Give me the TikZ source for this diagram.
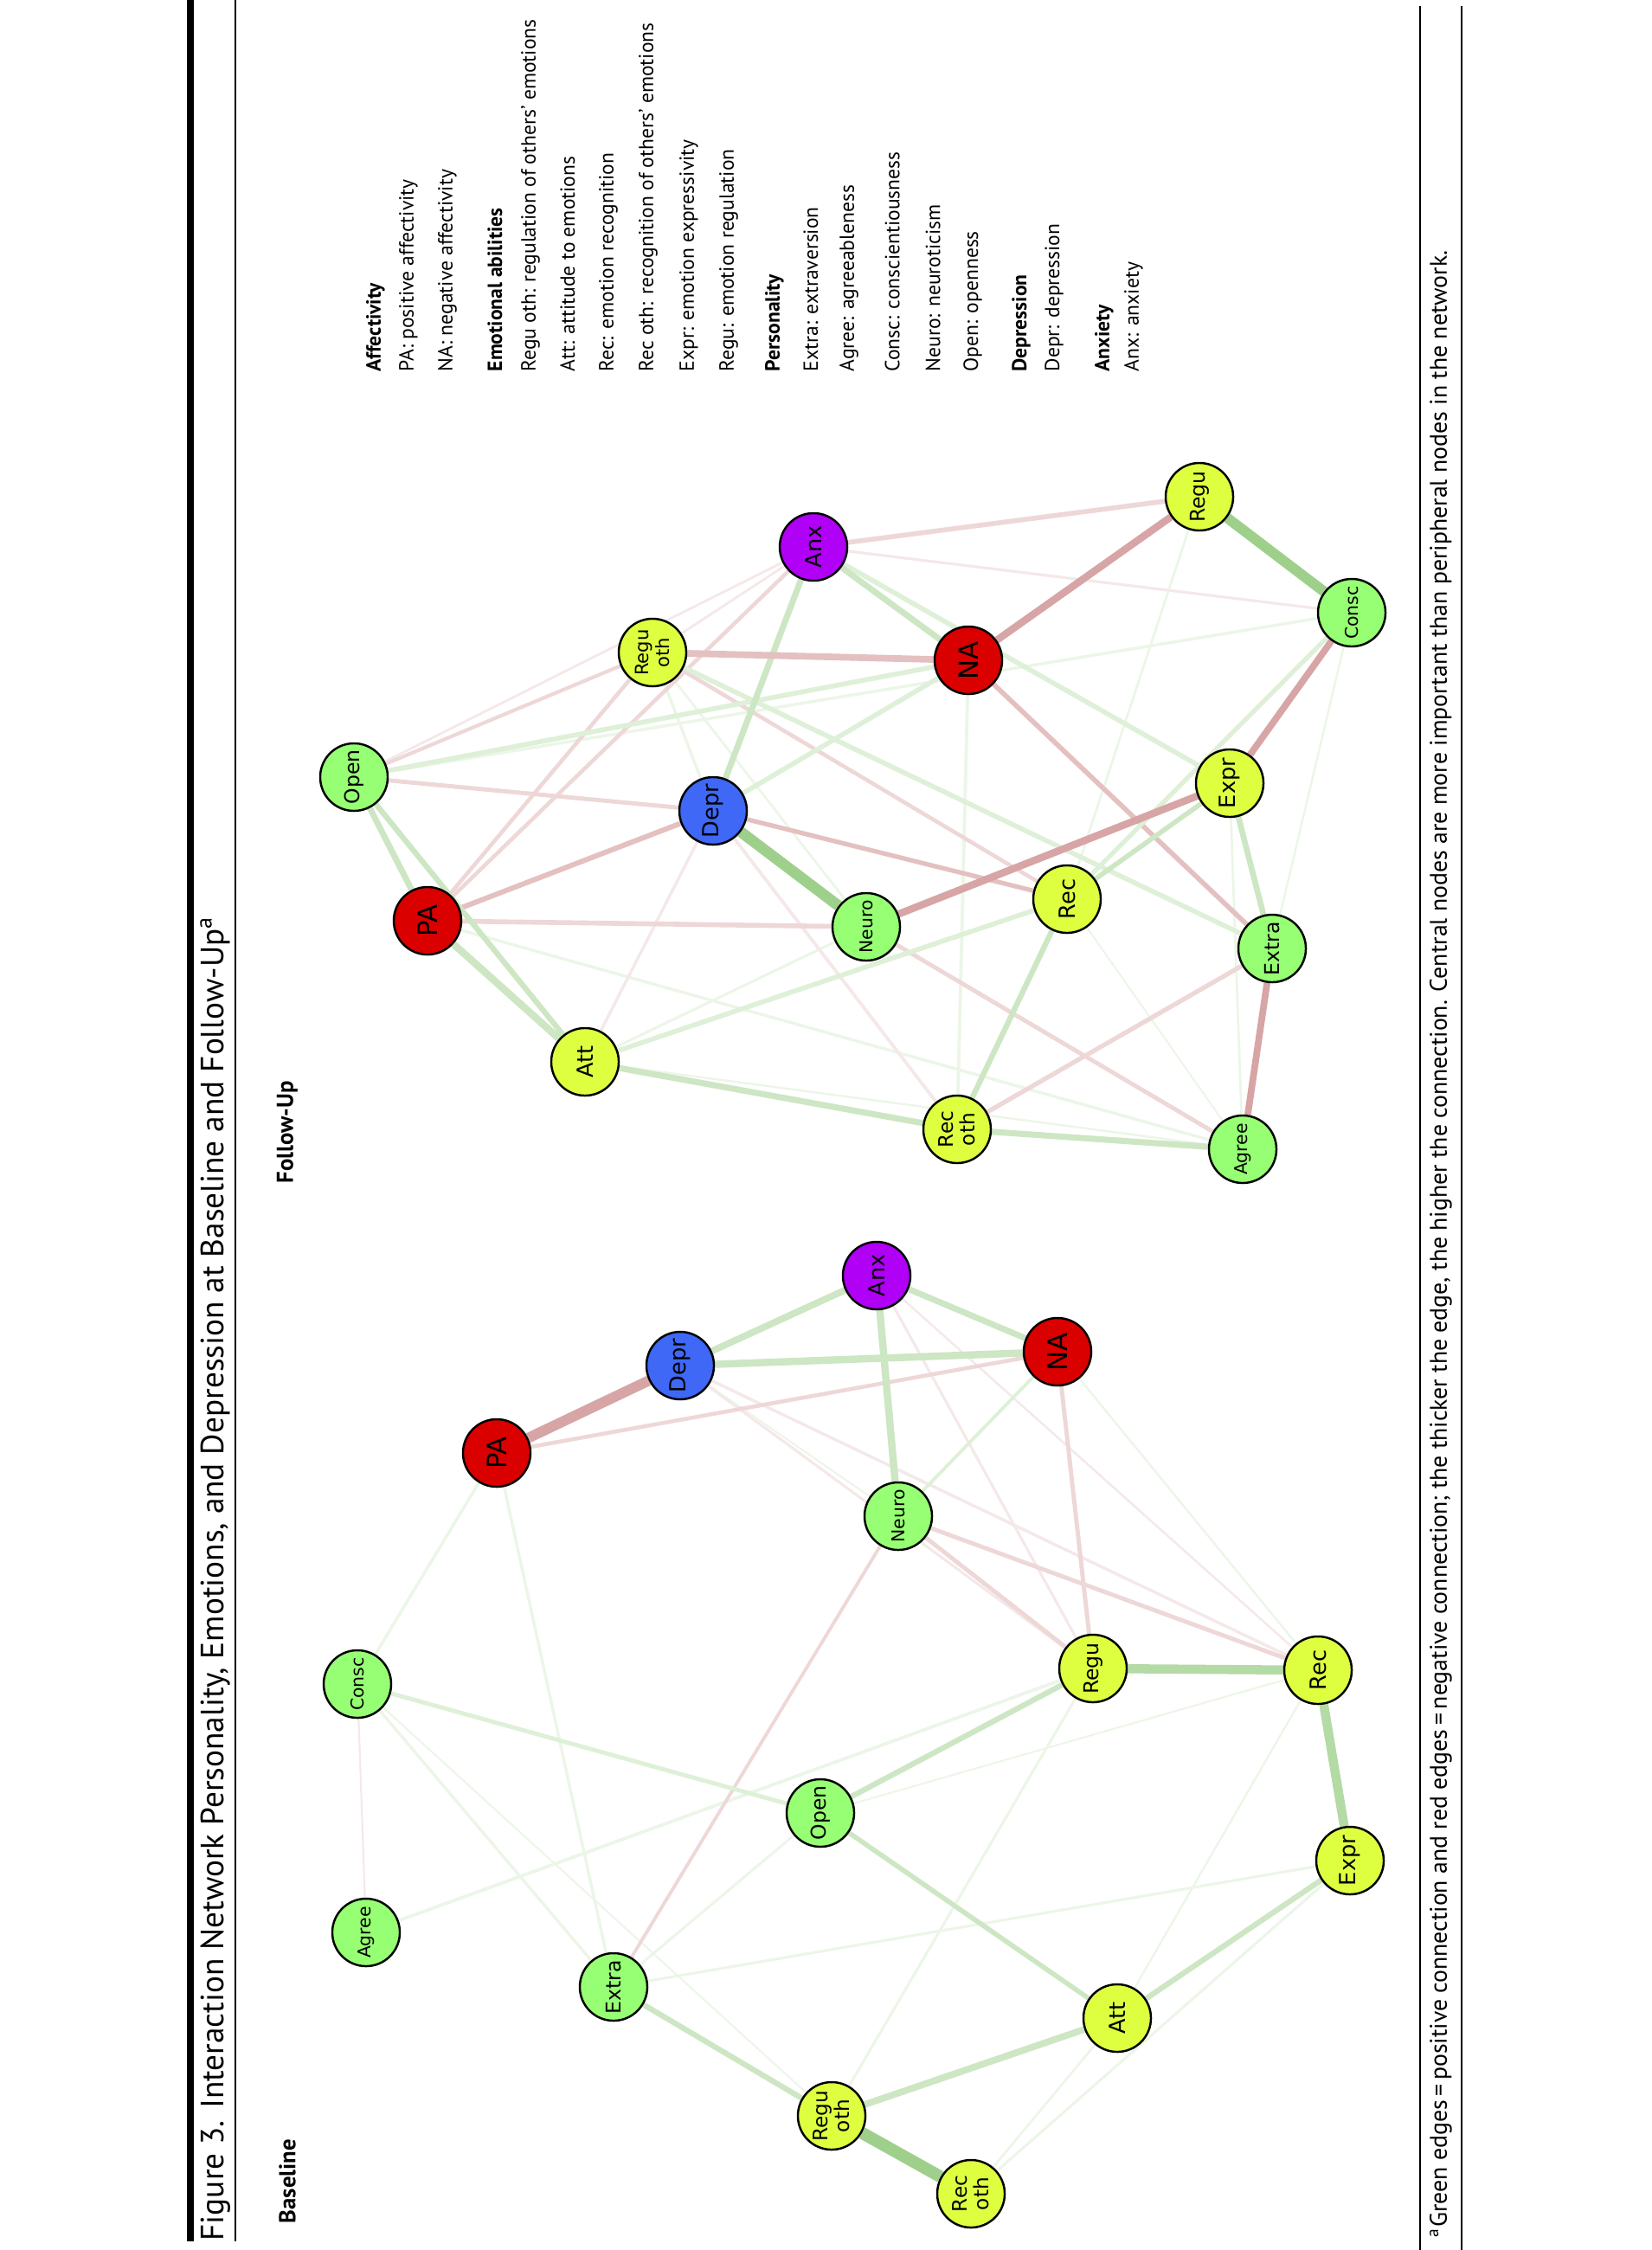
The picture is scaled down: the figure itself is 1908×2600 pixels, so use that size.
\documentclass[tikz,border=0pt]{standalone}
\usepackage{fontspec}
\setmainfont{PT Sans}
\newfontfamily\nodefont{DejaVu Sans}
\usetikzlibrary{backgrounds}
\definecolor{cRed}{RGB}{218,0,0}
\definecolor{cBlue}{RGB}{62,104,245}
\definecolor{cPurp}{RGB}{176,0,245}
\definecolor{cGreen}{RGB}{150,255,115}
\definecolor{cYell}{RGB}{222,255,64}
\definecolor{eG1}{RGB}{158,208,140}
\definecolor{eG2}{RGB}{180,218,165}
\definecolor{eG3}{RGB}{205,230,195}
\definecolor{eG4}{RGB}{222,240,215}
\definecolor{eG5}{RGB}{236,246,232}
\definecolor{eR1}{RGB}{215,165,165}
\definecolor{eR2}{RGB}{228,192,192}
\definecolor{eR3}{RGB}{238,215,215}
\definecolor{eR4}{RGB}{245,232,232}
\tikzset{
  nd/.style={circle, draw=black, line width=0.7pt, minimum size=0.78cm, inner sep=0pt,
    rotate=90, align=center, font=\nodefont\fontsize{7.3}{8}\selectfont},
  ndbig/.style={nd, font=\nodefont\fontsize{8.8}{10}\selectfont},
  ndmid/.style={nd, font=\nodefont\fontsize{6.7}{7.5}\selectfont},
  ndsmall/.style={nd, font=\nodefont\fontsize{5.8}{6.5}\selectfont},
  ndtwo/.style={nd, font=\nodefont\fontsize{6.6}{7.2}\selectfont},
  ndtwos/.style={nd, font=\nodefont\fontsize{6}{6.6}\selectfont},
  nred/.style={fill=cRed}, nblue/.style={fill=cBlue}, npurp/.style={fill=cPurp},
  ngreen/.style={fill=cGreen}, nyell/.style={fill=cYell},
  G1/.style={draw=eG1}, G2/.style={draw=eG2}, G3/.style={draw=eG3}, G4/.style={draw=eG4}, G5/.style={draw=eG5},
  R1/.style={draw=eR1}, R2/.style={draw=eR2}, R3/.style={draw=eR3}, R4/.style={draw=eR4},
  legtxt/.style={rotate=90, anchor=west, inner sep=0pt, font=\fontsize{6.7}{8}\selectfont},
  leghead/.style={legtxt, font=\bfseries\fontsize{6.7}{8}\selectfont}
}
\begin{document}
\begin{tikzpicture}[x=0.01cm,y=-0.01cm]
\path[use as bounding box] (0,0) rectangle (1908,2600);
% frame rules
\draw[line width=2pt] (220,0) -- (220,2590);
\draw[line width=0.45pt] (272,0) -- (272,2590);
\draw[line width=0.55pt] (1641,7) -- (1641,2600);
\draw[line width=0.55pt] (1689,7) -- (1689,2600);
% title and headings
\node[rotate=90, anchor=west, inner sep=0pt, font=\fontsize{10.6}{12}\selectfont] (title) at (249,2590)
  {Figure 3. Interaction Network Personality, Emotions, and Depression at Baseline and Follow-Up\textsuperscript{a}};
\node[rotate=90, anchor=west, inner sep=0pt, font=\bfseries\fontsize{7.6}{9}\selectfont] (hbase) at (332,2570) {Baseline};
\node[rotate=90, anchor=west, inner sep=0pt, font=\bfseries\fontsize{7.6}{9}\selectfont] (hfu) at (332,1368) {Follow-Up};
\node[rotate=90, anchor=west, inner sep=0pt, font=\fontsize{7.9}{9}\selectfont] (foot) at (1665,2586)
  {\textsuperscript{a}Green edges\,=\,positive connection and red edges\,=\,negative connection; the thicker the edge, the higher the connection. Central nodes are more important than peripheral nodes in the network.};
% legend
\node[leghead] (l1) at (434,430) {Affectivity};
\node[legtxt] (l2) at (472,430) {PA: positive affectivity};
\node[legtxt] (l3) at (517,430) {NA: negative affectivity};
\node[leghead] (l4) at (572,430) {Emotional abilities};
\node[legtxt] (l5) at (613,430) {Regu oth: regulation of others' emotions};
\node[legtxt] (l6) at (656,430) {Att: attitude to emotions};
\node[legtxt] (l7) at (703,430) {Rec: emotion recognition};
\node[legtxt] (l8) at (749,430) {Rec oth: recognition of others' emotions};
\node[legtxt] (l9) at (796,430) {Expr: emotion expressivity};
\node[legtxt] (l10) at (842,430) {Regu: emotion regulation};
\node[leghead] (l11) at (895,430) {Personality};
\node[legtxt] (l12) at (937,430) {Extra: extraversion};
\node[legtxt] (l13) at (981,430) {Agree: agreeableness};
\node[legtxt] (l14) at (1031,430) {Consc: conscientiousness};
\node[legtxt] (l15) at (1078,430) {Neuro: neuroticism};
\node[legtxt] (l16) at (1124,430) {Open: openness};
\node[leghead] (l17) at (1180,430) {Depression};
\node[legtxt] (l18) at (1218,430) {Depr: depression};
\node[leghead] (l19) at (1276,430) {Anxiety};
\node[legtxt] (l20) at (1310,430) {Anx: anxiety};

% ---------------- Baseline nodes
\node[ndbig,nred] (bPA) at (574,1679) {PA};
\node[nd,nblue] (bDepr) at (786,1578) {Depr};
\node[nd,npurp] (bAnx) at (1013,1474) {Anx};
\node[ndbig,nred] (bNA) at (1222,1562) {NA};
\node[ndsmall,ngreen] (bNeuro) at (1038,1752) {Neuro};
\node[ndsmall,ngreen] (bConsc) at (413,1946) {Consc};
\node[ndmid,nyell] (bRegu) at (1263,1928) {Regu};
\node[nd,nyell] (bRec) at (1523,1930) {Rec};
\node[ndmid,ngreen] (bOpen) at (948,2095) {Open};
\node[nd,nyell] (bExpr) at (1560,2150) {Expr};
\node[ndsmall,ngreen] (bAgree) at (423,2233) {Agree};
\node[ndmid,ngreen] (bExtra) at (709,2296) {Extra};
\node[nd,nyell] (bAtt) at (1291,2332) {Att};
\node[ndtwo,nyell] (bRegOth) at (961,2445) {Regu\\oth};
\node[ndtwo,nyell] (bRecOth) at (1122,2535) {Rec\\oth};

% ---------------- Follow-up nodes
\node[ndmid,ngreen] (fOpen) at (409,898) {Open};
\node[ndbig,nred] (fPA) at (494,1064) {PA};
\node[nd,nyell] (fAtt) at (676,1227) {Att};
\node[ndtwos,nyell] (fRegOth) at (754,754) {Regu\\oth};
\node[nd,nblue] (fDepr) at (824,937) {Depr};
\node[ndsmall,ngreen] (fNeuro) at (1001,1071) {Neuro};
\node[nd,npurp] (fAnx) at (940,632) {Anx};
\node[ndbig,nred] (fNA) at (1119,763) {NA};
\node[ndtwo,nyell] (fRecOth) at (1106,1305) {Rec\\oth};
\node[nd,nyell] (fRec) at (1233,1039) {Rec};
\node[nd,nyell] (fExpr) at (1421,905) {Expr};
\node[ndmid,ngreen] (fExtra) at (1470,1096) {Extra};
\node[ndsmall,ngreen] (fAgree) at (1436,1328) {Agree};
\node[ndmid,nyell] (fRegu) at (1386,574) {Regu};
\node[ndsmall,ngreen] (fConsc) at (1562,708) {Consc};

\begin{pgfonlayer}{background}
% ---- baseline edges (faint first)
\draw[G5,line width=0.6pt] (bOpen) -- (bRec);
\draw[G5,line width=0.6pt] (bDepr) -- (bNeuro);
\draw[R4,line width=0.6pt] (bConsc) -- (bAgree);
\draw[G5,line width=0.6pt] (bConsc) -- (bRegOth);
\draw[G5,line width=0.7pt] (bNA) -- (bRec);
\draw[R4,line width=0.7pt] (bAnx) -- (bRec);
\draw[G5,line width=0.7pt] (bAtt) -- (bRec);
\draw[G5,line width=0.8pt] (bAtt) -- (bRecOth);
\draw[R4,line width=0.9pt] (bDepr) -- (bRegu);
\draw[R4,line width=0.9pt] (bAnx) -- (bRegu);
\draw[G5,line width=0.9pt] (bExtra) -- (bOpen);
\draw[G5,line width=0.9pt] (bExtra) -- (bExpr);
\draw[G5,line width=0.9pt] (bRegOth) -- (bRegu);
\draw[G5,line width=0.9pt] (bExpr) -- (bRecOth);
\draw[G5,line width=1pt] (bPA) -- (bConsc);
\draw[G5,line width=1pt] (bPA) -- (bExtra);
\draw[G5,line width=1pt] (bConsc) -- (bExtra);
\draw[G5,line width=1.1pt] (bAgree) -- (bRegu);
\draw[R4,line width=1pt] (bDepr) -- (bRec);
\draw[G4,line width=1.1pt] (bNeuro) -- (bNA);
\draw[R3,line width=1.1pt] (bNeuro) -- (bExtra);
\draw[R3,line width=1.3pt] (bPA) -- (bNA);
\draw[R3,line width=1.4pt] (bNA) -- (bRegu);
\draw[R3,line width=1.4pt] (bNeuro) -- (bRegu);
\draw[R3,line width=1.4pt] (bNeuro) -- (bRec);
\draw[G4,line width=1.4pt] (bConsc) -- (bOpen);
\draw[G3,line width=1.6pt] (bOpen) -- (bAtt);
\draw[G3,line width=1.8pt] (bOpen) -- (bRegu);
\draw[G3,line width=1.8pt] (bExtra) -- (bRegOth);
\draw[G3,line width=1.8pt] (bAtt) -- (bExpr);
\draw[G3,line width=2.2pt] (bRegOth) -- (bAtt);
\draw[G3,line width=2pt] (bAnx) -- (bNA);
\draw[G3,line width=2.2pt] (bDepr) -- (bAnx);
\draw[G3,line width=2.4pt] (bDepr) -- (bNA);
\draw[G3,line width=2.4pt] (bAnx) -- (bNeuro);
\draw[G2,line width=3pt] (bRegu) -- (bRec);
\draw[G2,line width=3pt] (bRec) -- (bExpr);
\draw[G1,line width=4pt] (bRegOth) -- (bRecOth);
\draw[R1,line width=3.4pt] (bPA) -- (bDepr);

% ---- follow-up edges
\draw[G5,line width=0.6pt] (fRec) -- (fAgree);
\draw[G5,line width=0.7pt] (fAtt) -- (fAgree);
\draw[G5,line width=0.7pt] (fConsc) -- (fExtra);
\draw[G5,line width=0.8pt] (fRegu) -- (fRec);
\draw[G5,line width=0.8pt] (fExpr) -- (fAgree);
\draw[G5,line width=0.8pt] (fRegOth) -- (fNeuro);
\draw[R4,line width=0.8pt] (fOpen) -- (fAnx);
\draw[R4,line width=0.8pt] (fRegOth) -- (fAnx);
\draw[R4,line width=0.9pt] (fAnx) -- (fConsc);
\draw[G5,line width=0.9pt] (fAtt) -- (fNeuro);
\draw[G5,line width=1pt] (fOpen) -- (fConsc);
\draw[G5,line width=1pt] (fRegOth) -- (fDepr);
\draw[G5,line width=1pt] (fPA) -- (fAgree);
\draw[R4,line width=1pt] (fDepr) -- (fAtt);
\draw[R4,line width=1.1pt] (fDepr) -- (fRecOth);
\draw[G5,line width=1.1pt] (fNA) -- (fRecOth);
\draw[R3,line width=1.2pt] (fOpen) -- (fRegOth);
\draw[R3,line width=1.3pt] (fRegOth) -- (fPA);
\draw[R3,line width=1.3pt] (fAnx) -- (fPA);
\draw[R3,line width=1.3pt] (fRegOth) -- (fRec);
\draw[R3,line width=1.4pt] (fOpen) -- (fDepr);
\draw[R3,line width=1.4pt] (fNeuro) -- (fAgree);
\draw[R3,line width=1.5pt] (fRecOth) -- (fExtra);
\draw[R3,line width=1.6pt] (fPA) -- (fNeuro);
\draw[R3,line width=1.6pt] (fAnx) -- (fRegu);
\draw[R2,line width=1.5pt] (fDepr) -- (fRec);
\draw[R2,line width=1.6pt] (fNA) -- (fExtra);
\draw[R2,line width=1.7pt] (fDepr) -- (fPA);
\draw[G4,line width=1.5pt] (fConsc) -- (fRec);
\draw[G4,line width=1.6pt] (fOpen) -- (fNA);
\draw[G4,line width=1.6pt] (fRegOth) -- (fExtra);
\draw[G4,line width=1.6pt] (fAnx) -- (fExpr);
\draw[G4,line width=1.6pt] (fNA) -- (fDepr);
\draw[G4,line width=1.6pt] (fAtt) -- (fRec);
\draw[G3,line width=1.6pt] (fExpr) -- (fRec);
\draw[G3,line width=1.8pt] (fOpen) -- (fAtt);
\draw[G3,line width=1.8pt] (fRecOth) -- (fRec);
\draw[G3,line width=1.9pt] (fExpr) -- (fExtra);
\draw[G3,line width=2pt] (fOpen) -- (fPA);
\draw[G3,line width=2pt] (fAnx) -- (fDepr);
\draw[G3,line width=2pt] (fAnx) -- (fNA);
\draw[G3,line width=2pt] (fAtt) -- (fRecOth);
\draw[G3,line width=2pt] (fRecOth) -- (fAgree);
\draw[G3,line width=2.4pt] (fPA) -- (fAtt);
\draw[R2,line width=2.2pt] (fRegOth) -- (fNA);
\draw[R1,line width=2.2pt] (fConsc) -- (fExpr);
\draw[R1,line width=2.2pt] (fExtra) -- (fAgree);
\draw[R1,line width=2.4pt] (fNA) -- (fRegu);
\draw[R1,line width=2.4pt] (fExpr) -- (fNeuro);
\draw[G1,line width=3.4pt] (fRegu) -- (fConsc);
\draw[G1,line width=3.6pt] (fDepr) -- (fNeuro);
\end{pgfonlayer}
\end{tikzpicture}
\end{document}
